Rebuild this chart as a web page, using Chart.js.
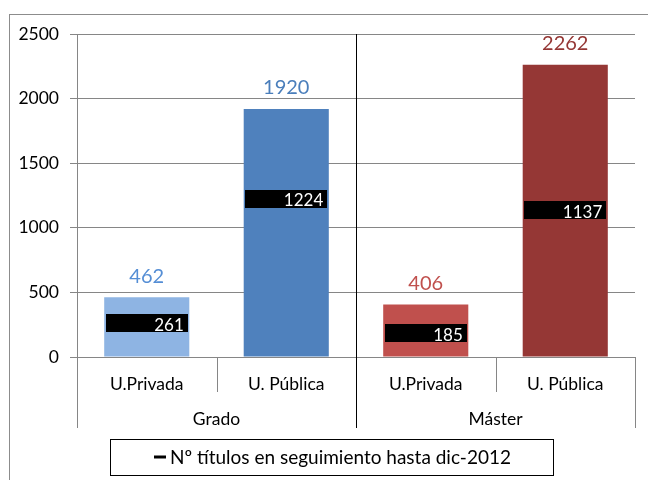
<!DOCTYPE html>
<html>
<head>
<meta charset="utf-8">
<script src="https://cdn.jsdelivr.net/npm/chart.js@4"></script>
<style>
  html, body { margin: 0; padding: 0; background: #fff; }
  #wrap { width: 648px; height: 480px; position: relative; }
</style>
</head>
<body>
<div id="wrap"><canvas id="chart" width="648" height="480"></canvas></div>
<script>
// Data
const categories = ["U.Privada", "U. Pública", "U.Privada", "U. Pública"];
const groups = ["Grado", "Máster"];
const totalTitles = [462, 1920, 406, 2262];
const followedTitles = [261, 1224, 185, 1137];
const yTicks = [0, 500, 1000, 1500, 2000, 2500];
const legendLabel = "Nº títulos en seguimiento hasta dic-2012";

const barColors = ["#8EB4E3", "#4F81BD", "#C0504D", "#953735"];
const labelColors = ["#558ED5", "#4A7EBB", "#C0504D", "#943634"];
const FONT = "Lato, 'Open Sans', sans-serif";
const GRID = "#868686";

// Black bar marker used for the "followed" series
const marker = document.createElement("canvas");
marker.width = 82;
marker.height = 18;
const mctx = marker.getContext("2d");
mctx.fillStyle = "#000";
mctx.fillRect(0, 0, marker.width, marker.height);

const decorations = {
  id: "decorations",
  beforeDraw(chart) {
    const ctx = chart.ctx;
    ctx.save();
    ctx.strokeStyle = "#8C8C8C";
    ctx.lineWidth = 1;
    ctx.strokeRect(9.5, 14.5, 1000, 1000); // outer frame, cut off at right/bottom
    ctx.restore();
  },
  afterDatasetsDraw(chart) {
    const ctx = chart.ctx;
    ctx.save();
    // totals above the bars
    const bars = chart.getDatasetMeta(1).data;
    ctx.font = "20px " + FONT;
    ctx.textAlign = "center";
    ctx.textBaseline = "middle";
    bars.forEach((bar, i) => {
      ctx.fillStyle = labelColors[i];
      ctx.fillText(String(totalTitles[i]), bar.x, bar.y - 21);
    });
    // values on the black markers
    const pts = chart.getDatasetMeta(0).data;
    ctx.font = "17px " + FONT;
    ctx.textAlign = "right";
    ctx.fillStyle = "#fff";
    pts.forEach((p, i) => {
      ctx.fillText(String(followedTitles[i]), p.x + 37, p.y + 2);
    });
    ctx.restore();
  },
  afterDraw(chart) {
    const ctx = chart.ctx;
    const x = chart.scales.x;
    const area = chart.chartArea;
    const px = i => x.getPixelForValue(i);
    const between = (a, b) => Math.round((px(a) + px(b)) / 2) + 0.5;
    ctx.save();
    ctx.lineWidth = 1;
    // category separators below the axis
    ctx.strokeStyle = GRID;
    ctx.beginPath();
    [[0, 1], [2, 3]].forEach(([a, b]) => {
      const sx = between(a, b);
      ctx.moveTo(sx, area.bottom);
      ctx.lineTo(sx, area.bottom + 35);
    });
    // outer edges of the group level
    [Math.round(area.left) + 0.5, Math.round(area.right) + 0.5].forEach(sx => {
      ctx.moveTo(sx, area.bottom);
      ctx.lineTo(sx, x.bottom);
    });
    ctx.stroke();
    // black group separator across plot and axis
    ctx.strokeStyle = "#000";
    ctx.beginPath();
    const mid = between(1, 2);
    ctx.moveTo(mid, area.top);
    ctx.lineTo(mid, x.bottom);
    ctx.stroke();
    // group labels
    ctx.font = "17.5px " + FONT;
    ctx.fillStyle = "#000";
    ctx.textAlign = "center";
    ctx.textBaseline = "middle";
    groups.forEach((g, i) => {
      ctx.fillText(g, (px(i * 2) + px(i * 2 + 1)) / 2, x.bottom - 9);
    });
    // legend box
    ctx.strokeStyle = "#000";
    ctx.strokeRect(110.5, 439.5, 443, 36);
    ctx.lineWidth = 3;
    ctx.beginPath();
    ctx.moveTo(154, 457);
    ctx.lineTo(166, 457);
    ctx.stroke();
    ctx.textAlign = "left";
    ctx.font = "19px " + FONT;
    ctx.fillText(legendLabel, 170, 458);
    ctx.restore();
  }
};

new Chart(document.getElementById("chart"), {
  data: {
    labels: categories,
    datasets: [
      {
        type: "line",
        label: legendLabel,
        data: followedTitles,
        showLine: false,
        pointStyle: marker,
        pointRadius: 10,
        pointHoverRadius: 10,
        order: 0
      },
      {
        type: "bar",
        label: "Total",
        data: totalTitles,
        backgroundColor: barColors,
        borderWidth: 0,
        barPercentage: 0.61,
        categoryPercentage: 1,
        order: 1
      }
    ]
  },
  options: {
    responsive: false,
    animation: false,
    devicePixelRatio: 1,
    layout: { padding: { left: 10, right: 13, top: 34, bottom: 52 } },
    plugins: {
      legend: { display: false },
      tooltip: { enabled: false }
    },
    scales: {
      x: {
        grid: { display: false },
        border: { display: false },
        ticks: { color: "#000", font: { family: FONT, size: 17.5 }, padding: 9, maxRotation: 0, autoSkip: false },
        afterFit(scale) { scale.height = 71; }
      },
      y: {
        min: 0,
        max: 2500,
        afterBuildTicks(scale) { scale.ticks = yTicks.map(v => ({ value: v })); },
        grid: { color: GRID, tickLength: 7, drawTicks: true },
        border: { display: true, color: GRID },
        ticks: { color: "#000", font: { family: FONT, size: 17.5 }, padding: 11, callback: v => String(v) },
        afterFit(scale) { scale.width = 67; }
      }
    }
  },
  plugins: [decorations]
});
</script>
</body>
</html>
